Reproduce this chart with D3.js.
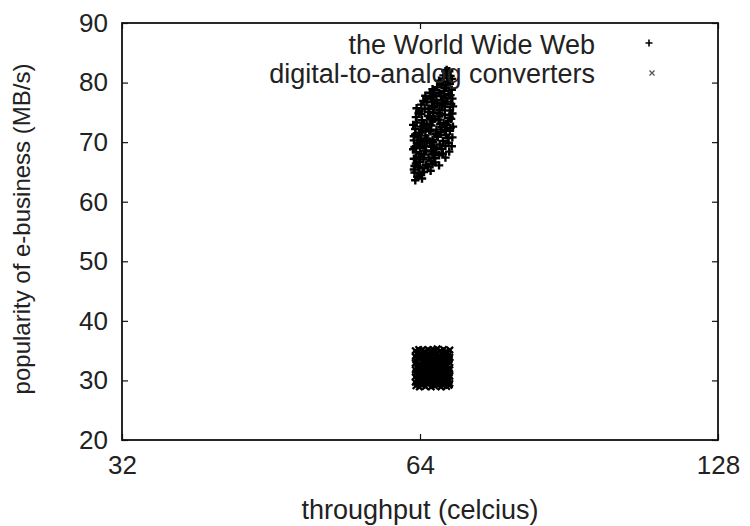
<!DOCTYPE html>
<html>
<head>
<meta charset="utf-8">
<script src="https://cdn.jsdelivr.net/npm/d3@7"></script>
<style>
body { margin: 0; background: #fff; }
text { font-family: "Liberation Sans", Arial, sans-serif; fill: #222; }
</style>
</head>
<body>
<script>
var xTicks = [32, 64, 128];
var yTicks = [20, 30, 40, 50, 60, 70, 80, 90];
var seriesNames = ["the World Wide Web", "digital-to-analog converters"];

// the World Wide Web (+)
var wwwPoints = [
    [63.3,63.6],[63.6,64.2],[64.1,64.5],[63.2,64.9],[64.6,65.0],[63.9,64.8],[64.3,63.9],
    [63.1,65.4],[63.7,65.8],[64.4,65.6],[65.2,65.9],[65.9,66.3],[63.4,66.4],[64.0,66.7],[64.9,66.2],[65.6,66.9],[66.3,66.6],[63.2,66.0],
    [63.1,67.2],[63.8,67.5],[64.5,67.1],[65.3,67.4],[66.1,67.3],[66.9,67.8],[67.5,68.1],[63.4,68.3],[64.2,68.0],[64.9,68.6],[65.7,68.4],[66.5,68.8],[67.3,68.9],[63.0,68.8],[64.6,67.9],[65.9,68.0],
    [63.2,69.2],[63.9,69.5],[64.7,69.3],[65.5,69.8],[66.2,69.1],[67.0,69.6],[67.9,69.4],[68.4,69.9],[63.1,70.3],[63.7,70.8],[64.4,70.1],[65.1,70.6],[65.9,70.4],[66.7,70.9],[67.5,70.2],[68.3,70.7],
    [63.3,71.3],[64.0,71.6],[64.8,71.1],[65.6,71.8],[66.4,71.4],[67.2,71.7],[68.0,71.2],[68.6,71.9],[63.6,69.9],[66.0,70.0],[64.3,71.9],
    [63.3,72.2],[64.1,72.6],[64.9,72.3],[65.7,72.8],[66.5,72.1],[67.3,72.5],[68.1,72.9],[68.7,72.4],[63.5,73.3],[64.3,73.7],[65.0,73.1],[65.9,73.5],[66.8,73.8],[67.6,73.2],[68.4,73.6],
    [63.4,74.2],[64.2,74.7],[65.2,74.4],[66.0,74.9],[66.9,74.3],[67.8,74.6],[68.6,74.1],[63.8,74.9],[65.5,74.0],[67.1,73.0],[68.8,73.9],
    [63.9,75.2],[64.7,75.6],[65.4,75.1],[66.2,75.8],[67.0,75.4],[67.8,75.9],[68.6,75.3],[64.2,76.3],[65.0,76.7],[65.8,76.1],[66.6,76.6],[67.4,76.2],[68.2,76.8],[68.8,76.4],[64.5,76.9],[66.9,75.0],
    [65.1,77.2],[65.8,77.6],[66.5,77.1],[67.2,77.8],[68.0,77.4],[68.7,77.9],[65.5,78.3],[66.2,78.7],[66.9,78.2],[67.7,78.6],[68.4,78.1],[68.9,78.8],[65.9,78.9],[67.4,77.0],
    [66.6,79.2],[67.3,79.6],[68.0,79.1],[68.6,79.8],[66.9,80.3],[67.6,80.7],[68.3,80.2],[68.9,80.6],[67.1,79.9],[68.2,80.9],
    [67.6,81.2],[68.2,81.5],[68.7,81.1],[67.9,81.9],[68.5,81.9],[68.1,82.1],
    [64.0,69.0],[65.0,70.2],[66.6,71.1],[67.8,72.0],[64.6,72.9],[66.2,73.9],[65.3,75.6],[67.5,76.6],[66.0,77.9],[67.9,79.5],
    [69.0,70.8],[69.1,72.6],[69.0,74.8],[69.1,76.0],[69.0,77.3],[68.9,69.3],[68.5,68.4],[67.9,67.4],[66.9,66.1],[65.6,65.2],
    [63.0,72.9],[63.1,71.0],[63.5,75.7],[64.8,77.8],[66.3,68.2],[65.4,72.0],[67.0,74.7],[66.1,76.9],[64.1,70.4],[65.8,69.2]
];

// digital-to-analog converters (x)
var dacPoints = [
    [63.4,29.1],[63.9,28.9],[64.3,29.2],[64.8,29.0],[65.2,29.3],[65.7,28.9],[66.2,29.1],[66.6,29.3],[67.2,28.9],[67.7,29.2],[68.1,29.0],[68.5,29.2],
    [63.3,29.7],[63.7,29.5],[64.2,29.8],[64.6,29.6],[65.1,29.5],[65.6,29.8],[66.0,29.6],[66.5,29.7],[67.0,29.5],[67.5,29.8],[68.0,29.6],[68.6,29.5],
    [63.5,30.2],[63.9,30.0],[64.4,30.3],[64.8,30.1],[65.3,30.0],[65.8,30.3],[66.3,30.1],[66.7,30.2],[67.2,30.0],[67.6,30.3],[68.2,30.1],[68.5,30.0],
    [63.3,30.6],[63.8,30.8],[64.2,30.5],[64.7,30.7],[65.2,30.9],[65.6,30.6],[66.1,30.8],[66.6,30.5],[67.1,30.7],[67.7,30.6],[68.1,30.8],[68.6,30.7],
    [63.4,31.3],[63.9,31.1],[64.3,31.2],[64.9,31.4],[65.3,31.1],[65.7,31.3],[66.2,31.2],[66.8,31.0],[67.2,31.3],[67.6,31.1],[68.2,31.4],[68.5,31.2],
    [63.3,31.8],[63.7,31.6],[64.2,31.9],[64.6,31.7],[65.1,31.6],[65.6,31.9],[66.0,31.7],[66.5,31.8],[67.0,31.6],[67.5,31.9],[68.0,31.7],[68.6,31.8],
    [63.5,32.2],[63.9,32.4],[64.4,32.3],[64.8,32.1],[65.3,32.4],[65.8,32.2],[66.3,32.3],[66.7,32.5],[67.3,32.2],[67.7,32.4],[68.1,32.3],[68.5,32.1],
    [63.3,32.9],[63.8,32.7],[64.3,33.0],[64.7,32.8],[65.2,32.7],[65.7,32.9],[66.1,32.8],[66.6,33.0],[67.1,32.7],[67.6,32.9],[68.0,32.8],[68.6,33.0],
    [63.4,33.4],[63.9,33.6],[64.4,33.3],[64.9,33.5],[65.3,33.4],[65.7,33.2],[66.2,33.5],[66.8,33.3],[67.2,33.6],[67.7,33.4],[68.2,33.3],[68.5,33.5],
    [63.3,34.0],[63.7,33.8],[64.2,34.1],[64.6,33.9],[65.1,34.0],[65.6,33.8],[66.1,34.1],[66.5,33.9],[67.0,34.0],[67.5,33.8],[68.0,34.1],[68.6,33.9],
    [63.5,34.5],[63.9,34.7],[64.4,34.4],[64.8,34.6],[65.3,34.5],[65.8,34.7],[66.3,34.4],[66.7,34.6],[67.3,34.5],[67.7,34.3],[68.1,34.6],[68.5,34.4],
    [63.3,35.0],[63.8,35.2],[64.3,35.1],[64.7,34.9],[65.2,35.2],[65.7,35.0],[66.1,35.1],[66.6,35.3],[67.1,35.0],[67.6,35.2],[68.0,34.9],[68.6,35.1]
];

var margin = { top: 23, right: 32, bottom: 86, left: 122 };
var totalW = 750, totalH = 526;
var width = totalW - margin.left - margin.right;
var height = totalH - margin.top - margin.bottom;

var xScale = d3.scaleLog().base(2)
    .domain([32, 128])
    .range([0, width]);

var yScale = d3.scaleLinear()
    .domain([20, 90])
    .range([height, 0]);

var svg = d3.select("body").append("svg")
    .attr("width", totalW)
    .attr("height", totalH)
    .append("g")
    .attr("transform", "translate(" + margin.left + "," + margin.top + ")");

var tickLen = 6;

// axes with ticks pointing inward, mirrored on the far sides
svg.append("g")
    .attr("transform", "translate(0," + height + ")")
    .call(d3.axisBottom(xScale).tickValues(xTicks).tickSizeInner(-tickLen).tickSizeOuter(0).tickPadding(16).tickFormat(d3.format("d")));
svg.append("g")
    .call(d3.axisTop(xScale).tickValues(xTicks).tickSizeInner(-tickLen).tickSizeOuter(0).tickFormat(""));
svg.append("g")
    .call(d3.axisLeft(yScale).tickValues(yTicks).tickSizeInner(-tickLen).tickSizeOuter(0).tickPadding(14));
svg.append("g")
    .attr("transform", "translate(" + width + ",0)")
    .call(d3.axisRight(yScale).tickValues(yTicks).tickSizeInner(-tickLen).tickSizeOuter(0).tickFormat(""));

svg.selectAll(".domain").remove();
svg.selectAll(".tick line").attr("stroke", "#111").attr("stroke-width", 1.2);
svg.selectAll(".tick text").attr("font-size", 26).attr("fill", "#222");

svg.append("rect")
    .attr("width", width)
    .attr("height", height)
    .attr("fill", "none")
    .attr("stroke", "#111")
    .attr("stroke-width", 1.8);

var plusPath = function(s) {
    return "M" + (-s) + ",0H" + s + "M0," + (-s) + "V" + s;
};
var crossPath = function(s) {
    return "M" + (-s) + "," + (-s) + "L" + s + "," + s + "M" + (-s) + "," + s + "L" + s + "," + (-s);
};

svg.append("g").selectAll("path")
    .data(wwwPoints)
    .enter().append("path")
    .attr("transform", function(d) { return "translate(" + xScale(d[0]) + "," + yScale(d[1]) + ")"; })
    .attr("d", plusPath(4.2))
    .attr("stroke", "#000")
    .attr("stroke-width", 2.4)
    .attr("fill", "none");

svg.append("g").selectAll("path")
    .data(dacPoints)
    .enter().append("path")
    .attr("transform", function(d) { return "translate(" + xScale(d[0]) + "," + yScale(d[1]) + ")"; })
    .attr("d", crossPath(3.2))
    .attr("stroke", "#000")
    .attr("stroke-width", 2.3)
    .attr("fill", "none");

// legend
var legend = svg.append("g");
legend.selectAll("text")
    .data(seriesNames)
    .enter().append("text")
    .attr("x", 473)
    .attr("y", function(d, i) { return 22 + i * 29; })
    .attr("dy", "0.35em")
    .attr("text-anchor", "end")
    .attr("font-size", 27)
    .text(function(d) { return d; });

legend.append("path")
    .attr("transform", "translate(527,20)")
    .attr("d", plusPath(3.5))
    .attr("stroke", "#000")
    .attr("stroke-width", 1.6);
legend.append("path")
    .attr("transform", "translate(530,50)")
    .attr("d", crossPath(2.5))
    .attr("stroke", "#555")
    .attr("stroke-width", 1.3);

// axis titles
svg.append("text")
    .attr("x", 298)
    .attr("y", height + 70)
    .attr("dy", "0.35em")
    .attr("text-anchor", "middle")
    .attr("font-size", 27)
    .text("throughput (celcius)");

svg.append("text")
    .attr("transform", "translate(" + (22 - margin.left) + "," + (229 - margin.top) + ") rotate(-90)")
    .attr("dy", "0.35em")
    .attr("text-anchor", "middle")
    .attr("font-size", 24)
    .text("popularity of e-business (MB/s)");
</script>
</body>
</html>
